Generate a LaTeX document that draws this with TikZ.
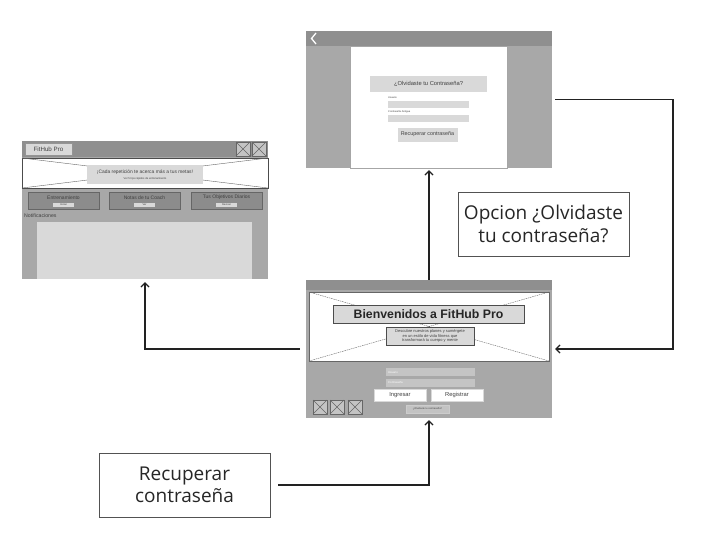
\documentclass[tikz,border=0pt]{standalone}
\usepackage{fontspec}
\setmainfont{Open Sans}
\newfontfamily\mockfont{Liberation Sans}
\usetikzlibrary{arrows.meta}
\definecolor{barg}{HTML}{8F8F8F}
\definecolor{bodyg}{HTML}{A8A8A8}
\definecolor{lightg}{HTML}{D9D9D9}
\definecolor{btng}{HTML}{8C8C8C}
\definecolor{edgeg}{HTML}{666666}
\definecolor{fieldg}{HTML}{C4C4C4}
\definecolor{arrowc}{HTML}{222222}
\newcommand\mkXicon[4]{%
  \filldraw[fill=fieldg,draw=edgeg,line width=0.5pt] (#1,#2) rectangle (#3,#4);
  \draw[edgeg,line width=0.4pt] (#1,#2)--(#3,#4) (#1,#4)--(#3,#2);}
\tikzset{
  x=1pt,y=-1pt,
  screen/.style={minimum width=246pt,minimum height=138pt,inner sep=0pt,draw=none},
  note/.style={draw=edgeg!80!black,line width=0.9pt,fill=white,minimum width=171pt,minimum height=64pt,align=center,font=\fontsize{19}{22.5}\selectfont,text=black!85},
  conn/.style={line width=1.2pt,draw=arrowc,-{Straight Barb[length=4pt,width=8pt]}},
  mt/.style={font=\mockfont\fontsize{#1}{#1}\selectfont,inner sep=0pt,text=black!75},
}
\begin{document}
\begin{tikzpicture}
\useasboundingbox[fill=white] (0,0) rectangle (720,538);

% ================= dashboard screen =================
\node[screen] (dash) at (145,210) {};
\fill[bodyg] (22,141) rectangle (268,279);
\fill[barg] (22,141) rectangle (268,157);
\filldraw[fill=lightg,draw=edgeg!70,line width=0.4pt] (25,143) rectangle (72,155);
\node[mt=6.2] (dashbrand) at (48.5,149) {FitHub Pro};
\mkXicon{236}{142}{250}{156}
\mkXicon{252}{142}{266}{156}
\filldraw[fill=white,draw=black!70,line width=0.6pt] (22,158) rectangle (268,188);
\draw[black!60,line width=0.4pt] (22,158)--(145,173)--(268,158) (22,188)--(145,173)--(268,188);
\fill[lightg] (87,165) rectangle (203,184);
\node[mt=4.9] (dashmsg) at (145,172) {¡Cada repetición te acerca más a tus metas!};
\node[mt=2.7] (dashsub) at (145,178.5) {Ver 5 tips rápidos de entrenamiento};
\foreach \bx/\lab/\sub [count=\i] in {28/Entrenamiento/Iniciar,109/Notas de tu Coach/Ver,191/Tus Objetivos Diarios/Revisar}{
  \filldraw[fill=btng,draw=edgeg,line width=0.5pt] (\bx,192) rectangle ({\bx+71},209);
  \node[mt=5] (dbtn\i) at ({\bx+35.5},197.5) {\lab};
  \fill[lightg] ({\bx+25},202.5) rectangle ({\bx+46},206.5);
  \node[mt=2.6] (dbsub\i) at ({\bx+35.5},204.5) {\sub};
}
\node[mt=5.2,anchor=west] (notif) at (24,215.5) {Notificaciones};
\fill[lightg] (37,222) rectangle (252,279);

% ================= forgot-password screen =================
\node[screen,minimum height=137pt] (forgot) at (429,99.5) {};
\fill[bodyg] (306,31) rectangle (552,168);
\fill[barg] (306,31) rectangle (552,46);
\draw[white,line width=1.3pt] (316,33)--(311.5,38.5)--(316,44);
\filldraw[fill=white,draw=black!35,line width=0.5pt] (350,46.5) rectangle (507,168);
\fill[lightg] (370,76) rectangle (487,92);
\node[mt=5.8] (fgtitle) at (428.5,84) {¿Olvidaste tu Contraseña?};
\node[mt=2.5,anchor=west] (fguser) at (388,97.5) {Usuario};
\fill[lightg] (388,101) rectangle (469,108);
\node[mt=2.5,anchor=west] (fgold) at (388,111.5) {Contraseña Antigua};
\fill[lightg] (388,115) rectangle (469,122);
\filldraw[fill=lightg,draw=black!15,line width=0.4pt] (398,128) rectangle (457,141);
\node[mt=5.4] (fgbtn) at (427.5,134.5) {Recuperar contraseña};

% ================= login screen =================
\node[screen] (login) at (429,349) {};
\fill[bodyg] (306,280) rectangle (552,418);
\fill[barg] (306,280) rectangle (552,290);
\filldraw[fill=white,draw=black!60,line width=0.6pt] (309,292) rectangle (549,361);
\draw[black!60,line width=0.4pt,dash pattern=on 1.5pt off 0.8pt] (309,292)--(429,326.5)--(549,292) (309,361)--(429,326.5)--(549,361);
\filldraw[fill=lightg,draw=black!70,line width=0.5pt] (333,305) rectangle (524,323);
\node[font=\mockfont\bfseries\fontsize{12.3}{13}\selectfont,inner sep=0pt,text=black!85] (lgtitle) at (428.5,314) {Bienvenidos a FitHub Pro};
\filldraw[fill=lightg,draw=black!70,line width=0.5pt] (386,327) rectangle (474,345);
\node[mt=4,align=center,font=\mockfont\fontsize{4}{4.8}\selectfont] (lgsub) at (430,336) {Descubre nuestros planes y sumérgete\\en un estilo de vida fitness que\\transformará tu cuerpo y mente};
\fill[fieldg] (386,368) rectangle (475,376);
\node[mt=2.8,anchor=west,text=white] (lguser) at (388,372) {Usuario};
\fill[fieldg] (386,379) rectangle (475,387);
\node[mt=2.8,anchor=west,text=white] (lgpass) at (388,383) {Contraseña};
\filldraw[fill=white,draw=black!15,line width=0.4pt] (374,389) rectangle (426,401);
\node[mt=5.8] (lgin) at (400,395) {Ingresar};
\filldraw[fill=white,draw=black!15,line width=0.4pt] (431,389) rectangle (483,401);
\node[mt=5.8] (lgreg) at (457,395) {Registrar};
\mkXicon{313}{400}{327}{414}
\mkXicon{330}{400}{344}{414}
\mkXicon{348}{400}{362}{414}
\filldraw[fill=lightg!90!black,draw=black!20,line width=0.3pt] (406,405) rectangle (449,413);
\node[mt=2.5] (lgforgot) at (427.5,409) {¿Olvidaste tu contraseña?};

% ================= annotation boxes =================
\node[note] (rec) at (184.5,485) {Recuperar\\contraseña};
\node[note] (opc) at (543.5,224) {Opcion ¿Olvidaste\\tu contraseña?};

% ================= connectors =================
\coordinate (rtop) at (673,99.5);
\draw[conn,shorten <=8pt,shorten >=2pt] (rec.east) -| (login.south);
\draw[conn,shorten >=2pt] (login.north) -- (forgot.south);
\draw[conn,shorten <=3pt,shorten >=3pt] (forgot.east) -- (rtop) |- (login.east);
\draw[conn,shorten <=6pt,shorten >=3pt] (login.west) -| (dash.south);
\end{tikzpicture}
\end{document}
